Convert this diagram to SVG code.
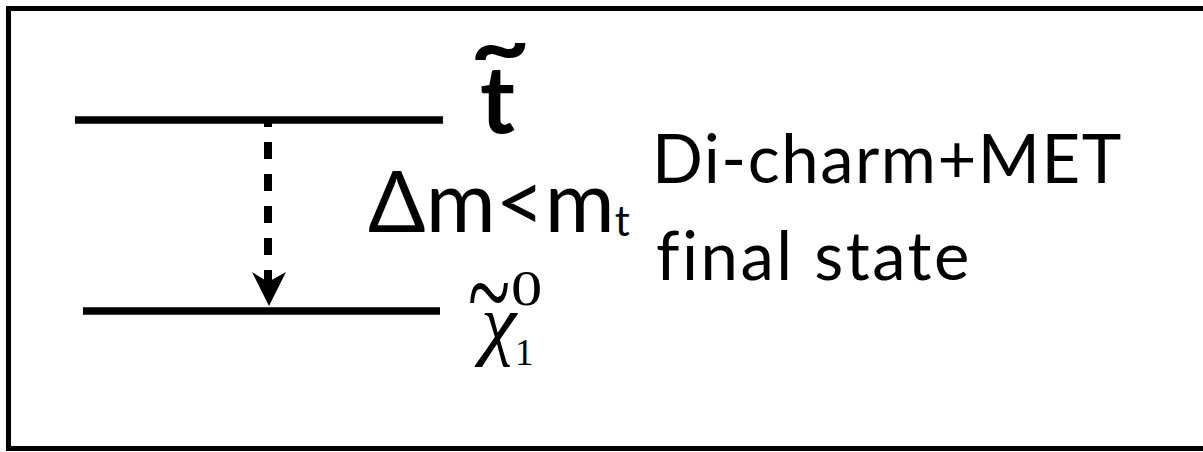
<svg xmlns="http://www.w3.org/2000/svg" width="1203" height="452" viewBox="0 0 1203 452">
<style>
.sans{font-family:Lato,"Open Sans","Liberation Sans",sans-serif;fill:#000}
.serif{font-family:"Liberation Serif","DejaVu Serif",serif;fill:#000}
.lvl{stroke:#000;stroke-width:7.5;fill:none}
</style>
<rect x="0" y="0" width="1203" height="452" fill="#fff"/>
<rect x="8.5" y="8.5" width="1210" height="440" fill="none" stroke="#000" stroke-width="5"/>
<g id="stop">
<line class="lvl" x1="75" y1="120" x2="443" y2="120"/>
<text class="sans" x="480" y="133" font-size="94" font-weight="bold">t</text>
<text class="sans" font-size="80" font-weight="bold" transform="translate(470,78) scale(1.3,1.1)">~</text>
</g>
<g id="neutralino">
<line class="lvl" x1="83" y1="311" x2="440" y2="311"/>
<text class="serif" x="481" y="350" font-size="80" font-style="italic">χ</text>
<text class="serif" font-size="60" transform="translate(468,333) scale(1.3,2)">~</text>
<text class="serif" font-size="50" transform="translate(511,305) scale(1.25,1)">0</text>
<text class="serif" x="515" y="365" font-size="37">1</text>
</g>
<g id="connectors">
<line x1="268" y1="120" x2="268" y2="285" stroke="#000" stroke-width="8" stroke-dasharray="17 15" stroke-dashoffset="10"/>
<polygon points="252,272 268,282 286,272 269,306" fill="#000"/>
</g>
<g id="labels">
<text class="sans" x="368" y="232" font-size="85">Δm&lt;m<tspan font-size="42" dy="4">t</tspan></text>
<text class="sans" x="652" y="183" font-size="67" letter-spacing="1.5">Di-charm+MET</text>
<text class="sans" x="656" y="280" font-size="67" letter-spacing="2.5">final state</text>
</g>
</svg>
